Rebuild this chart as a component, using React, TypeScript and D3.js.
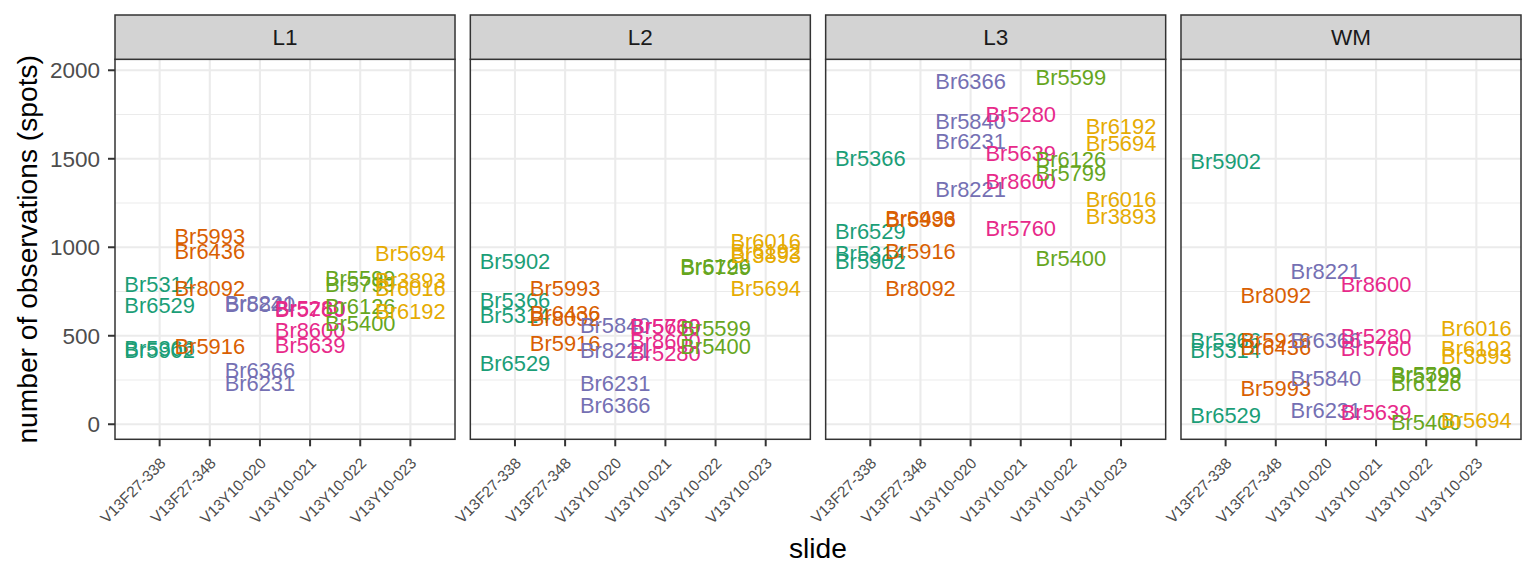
import React, { useEffect } from "react";
import * as d3 from "d3";

const layers = ["L1", "L2", "L3", "WM"];
const slides = ["V13F27-338", "V13F27-348", "V13Y10-020", "V13Y10-021", "V13Y10-022", "V13Y10-023"];
const slideColors = ["#1B9E77", "#D95F02", "#7570B3", "#E7298A", "#66A61E", "#E6AB02"];

const donorsBySlide = [
  ["Br5314", "Br6529", "Br5902", "Br5366"],
  ["Br5993", "Br6436", "Br8092", "Br5916"],
  ["Br8221", "Br5840", "Br6366", "Br6231"],
  ["Br5280", "Br5760", "Br8600", "Br5639"],
  ["Br5599", "Br5799", "Br6126", "Br5400"],
  ["Br5694", "Br3893", "Br6016", "Br6192"],
];

const countsL1 = [
  [789, 675, 421, 432],
  [1062, 977, 770, 439],
  [687, 681, 307, 232],
  [657, 653, 534, 449],
  [826, 789, 666, 572],
  [968, 817, 770, 637],
];
const countsL2 = [
  [619, 345, 920, 704],
  [770, 630, 602, 459],
  [421, 562, 109, 232],
  [402, 553, 468, 556],
  [543, 890, 895, 439],
  [770, 958, 1034, 977],
];
const countsL3 = [
  [968, 1090, 920, 1506],
  [1160, 1165, 770, 977],
  [1326, 1713, 1939, 1600],
  [1751, 1110, 1373, 1534],
  [1959, 1421, 1496, 940],
  [1591, 1175, 1270, 1685],
];
const countsWM = [
  [421, 53, 1487, 477],
  [204, 436, 732, 477],
  [864, 260, 477, 81],
  [496, 430, 789, 71],
  [285, 279, 232, 10],
  [24, 383, 543, 430],
];
const countsByLayer = [countsL1, countsL2, countsL3, countsWM];

const yTicks = [0, 500, 1000, 1500, 2000];
const yMinor = [250, 750, 1250, 1750];

const FONT = "'Liberation Sans', Arial, Helvetica, sans-serif";

export default function App() {
  useEffect(() => {
    document.body.style.margin = "0";
  }, []);

  const W = 1536;
  const H = 576;
  const stripTop = 15;
  const panelTop = 59.3;
  const panelBottom = 439.3;

  const panelScale = d3.scaleBand<string>().domain(layers).range([115, 1521]).paddingInner(0.0431);
  const y = d3.scaleLinear().domain([-85, 2062]).range([panelBottom, panelTop]);

  return (
    <svg width={W} height={H} style={{ display: "block", fontFamily: FONT }}>
      <rect x={0} y={0} width={W} height={H} fill="#FFFFFF" />
      {layers.map((layer, li) => {
        const x0 = panelScale(layer)!;
        const pw = panelScale.bandwidth();
        const x = d3.scalePoint<string>().domain(slides).range([x0, x0 + pw]).padding(0.89);
        const counts = countsByLayer[li];
        return (
          <g key={layer}>
            {/* panel background */}
            <rect x={x0} y={panelTop} width={pw} height={panelBottom - panelTop} fill="#FFFFFF" />
            {/* minor grid */}
            {yMinor.map((t) => (
              <line key={"mi" + t} x1={x0} x2={x0 + pw} y1={y(t)} y2={y(t)} stroke="#EBEBEB" strokeWidth={1.1} />
            ))}
            {/* major grid */}
            {yTicks.map((t) => (
              <line key={"ma" + t} x1={x0} x2={x0 + pw} y1={y(t)} y2={y(t)} stroke="#EBEBEB" strokeWidth={2.1} />
            ))}
            {slides.map((s) => (
              <line key={"vx" + s} x1={x(s)} x2={x(s)} y1={panelTop} y2={panelBottom} stroke="#EBEBEB" strokeWidth={2.1} />
            ))}
            {/* labels */}
            {slides.map((s, si) =>
              donorsBySlide[si].map((d, di) => (
                <text
                  key={s + d}
                  x={x(s)}
                  y={y(counts[si][di])}
                  dy="0.36em"
                  textAnchor="middle"
                  fontSize={21.9}
                  fill={slideColors[si]}
                >
                  {d}
                </text>
              ))
            )}
            {/* panel border */}
            <rect x={x0} y={panelTop} width={pw} height={panelBottom - panelTop} fill="none" stroke="#333333" strokeWidth={1.5} />
            {/* strip */}
            <rect x={x0} y={stripTop} width={pw} height={panelTop - stripTop} fill="#D3D3D3" stroke="#333333" strokeWidth={1.5} />
            <text x={x0 + pw / 2} y={(stripTop + panelTop) / 2} dy="0.36em" textAnchor="middle" fontSize={22.5} fill="#1A1A1A">
              {layer}
            </text>
            {/* x ticks */}
            {slides.map((s) => (
              <g key={"xt" + s}>
                <line x1={x(s)} x2={x(s)} y1={panelBottom} y2={panelBottom + 7} stroke="#333333" strokeWidth={2} />
                <text
                  transform={`translate(${(x(s) as number) + 7},${panelBottom + 25}) rotate(-45)`}
                  textAnchor="end"
                  fontSize={15.4}
                  fill="#4D4D4D"
                >
                  {s}
                </text>
              </g>
            ))}
          </g>
        );
      })}
      {/* y axis */}
      {yTicks.map((t) => (
        <g key={"yt" + t}>
          <line x1={108} x2={115} y1={y(t)} y2={y(t)} stroke="#333333" strokeWidth={2} />
          <text x={100} y={y(t)} dy="0.36em" textAnchor="end" fontSize={22.5} fill="#4D4D4D">
            {t}
          </text>
        </g>
      ))}
      <text
        transform={`translate(37,${(panelTop + panelBottom) / 2}) rotate(-90)`}
        textAnchor="middle"
        fontSize={28.2}
        fill="#000000"
      >
        number of observations (spots)
      </text>
      <text x={818} y={558} textAnchor="middle" fontSize={28.2} fill="#000000">
        slide
      </text>
    </svg>
  );
}
